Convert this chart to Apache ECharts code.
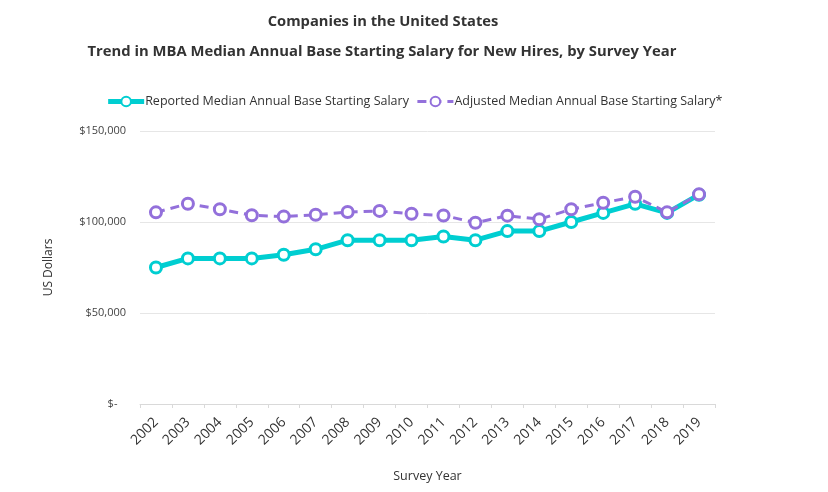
<!DOCTYPE html>
<html>
<head>
<meta charset="utf-8">
<script src="https://cdn.jsdelivr.net/npm/echarts@6/dist/echarts.min.js"></script>
<style>html,body{margin:0;padding:0;background:#fff}#c{width:828px;height:492px}</style>
</head>
<body>
<div id="c"></div>
<script>
const years = ['2002','2003','2004','2005','2006','2007','2008','2009','2010','2011','2012','2013','2014','2015','2016','2017','2018','2019'];
const reported = [75000,80000,80000,80000,82000,85000,90000,90000,90000,92000,90000,95000,95000,100000,105000,110000,105000,115000];
const adjusted = [105300,110000,107000,103700,103000,104000,105500,106100,104500,103600,99600,103500,101500,107000,110600,113900,105300,115200];
const yTicks = [0,50000,100000,150000];
const titleText = 'Companies in the United States';
const subtitleText = 'Trend in MBA Median Annual Base Starting Salary for New Hires, by Survey Year';
const seriesNames = ['Reported Median Annual Base Starting Salary','Adjusted Median Annual Base Starting Salary*'];

const FONT = 'Open Sans';
const chart = echarts.init(document.getElementById('c'));
chart.setOption({
  animation: false,
  textStyle: {fontFamily: FONT},
  title: [
    {text: titleText, left: 378, textAlign: 'center', top: 9, textStyle: {fontSize: 14.7, fontWeight: 'bold', color: '#333', fontFamily: FONT}},
    {text: subtitleText, left: 377, textAlign: 'center', top: 39, textStyle: {fontSize: 14.8, fontWeight: 'bold', color: '#333', fontFamily: FONT}}
  ],
  legend: {
    top: 90, left: 'center', itemGap: 7, itemWidth: 36, itemHeight: 12,
    textStyle: {fontSize: 12.5, color: '#333', fontFamily: FONT, padding: [0,0,0,-4]},
    lineStyle: {width: 'inherit'},
    data: seriesNames
  },
  grid: {left: 140, right: 113, top: 131, bottom: 88},
  xAxis: {
    type: 'category', data: years, boundaryGap: true,
    name: 'Survey Year', nameLocation: 'middle', nameGap: 66,
    nameTextStyle: {fontSize: 12.5, color: '#333', fontFamily: FONT},
    axisLine: {lineStyle: {color: '#d9d9d9'}},
    axisTick: {show: true, alignWithLabel: false, length: 4, lineStyle: {color: '#d9d9d9'}},
    axisLabel: {rotate: 45, fontSize: 14, color: '#333', margin: 16, interval: 0, fontFamily: FONT}
  },
  yAxis: {
    type: 'value', min: 0, max: 150000, interval: 50000,
    name: 'US Dollars', nameLocation: 'middle', nameGap: 85,
    nameTextStyle: {fontSize: 12, color: '#333', fontFamily: FONT},
    axisLine: {show: false}, axisTick: {show: false},
    splitLine: {lineStyle: {color: '#e6e6e6'}},
    axisLabel: {fontSize: 11, color: '#444', margin: 14, fontFamily: FONT,
      formatter: v => yTicks.includes(v) ? (v === 0 ? '$-   ' : '$' + v.toLocaleString('en-US')) : ''}
  },
  series: [
    {name: seriesNames[0], type: 'line', data: reported, symbol: 'circle', symbolSize: 11,
      lineStyle: {color: '#00CED1', width: 5},
      itemStyle: {color: '#ffffff', borderColor: '#00CED1', borderWidth: 3},
      z: 2},
    {name: seriesNames[1], type: 'line', data: adjusted, symbol: 'circle', symbolSize: 11,
      lineStyle: {color: '#9370DB', width: 3, type: [9, 6]},
      itemStyle: {color: '#ffffff', borderColor: '#9370DB', borderWidth: 3},
      z: 3}
  ]
});
</script>
</body>
</html>
